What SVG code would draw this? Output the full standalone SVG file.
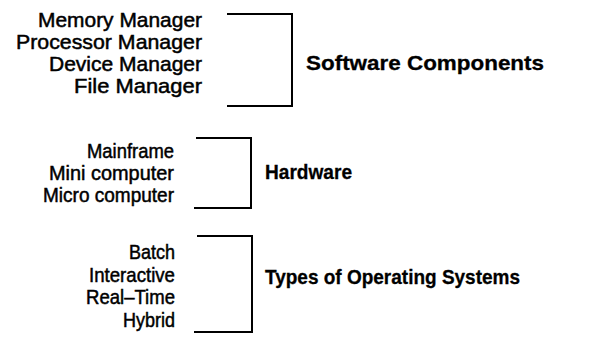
<svg xmlns="http://www.w3.org/2000/svg" width="608" height="345" viewBox="0 0 608 345">
<style>
.item{font-family:"Liberation Sans",Arial,sans-serif;font-size:21px;fill:#000;stroke:#000;stroke-width:0.5;text-anchor:end}
.label{font-family:"Liberation Sans",Arial,sans-serif;font-size:21px;font-weight:bold;fill:#000;stroke:#000;stroke-width:0.3}
.br{fill:none;stroke:#000;stroke-width:2;stroke-linecap:square}
</style>
<rect width="608" height="345" fill="#fff"/>
<g id="software-items">
<text class="item" x="202" y="27" textLength="164" lengthAdjust="spacingAndGlyphs">Memory Manager</text>
<text class="item" x="202" y="49" textLength="186" lengthAdjust="spacingAndGlyphs">Processor Manager</text>
<text class="item" x="202" y="71" textLength="153" lengthAdjust="spacingAndGlyphs">Device Manager</text>
<text class="item" x="202" y="93" textLength="128" lengthAdjust="spacingAndGlyphs">File Manager</text>
</g>
<g id="software-label">
<text class="label" x="306" y="70" textLength="238" lengthAdjust="spacingAndGlyphs">Software Components</text>
</g>
<g id="hardware-items">
<text class="item" x="174" y="158" textLength="87" lengthAdjust="spacingAndGlyphs">Mainframe</text>
<text class="item" x="174" y="180" textLength="125" lengthAdjust="spacingAndGlyphs">Mini computer</text>
<text class="item" x="174" y="202" textLength="131" lengthAdjust="spacingAndGlyphs">Micro computer</text>
</g>
<g id="hardware-label">
<text class="label" x="265" y="179" textLength="87" lengthAdjust="spacingAndGlyphs">Hardware</text>
</g>
<g id="os-items">
<text class="item" x="175" y="259" textLength="46" lengthAdjust="spacingAndGlyphs">Batch</text>
<text class="item" x="175" y="282" textLength="86" lengthAdjust="spacingAndGlyphs">Interactive</text>
<text class="item" x="175" y="304" textLength="89" lengthAdjust="spacingAndGlyphs">Real–Time</text>
<text class="item" x="175" y="327" textLength="52" lengthAdjust="spacingAndGlyphs">Hybrid</text>
</g>
<g id="os-label">
<text class="label" x="265" y="284" textLength="255" lengthAdjust="spacingAndGlyphs">Types of Operating Systems</text>
</g>
<g id="connectors">
<path class="br" d="M228 14 H292 V106 H228"/>
<path class="br" d="M197 138 H251 V208 H195"/>
<path class="br" d="M198 236 H252 V332 H195"/>
</g>
</svg>
